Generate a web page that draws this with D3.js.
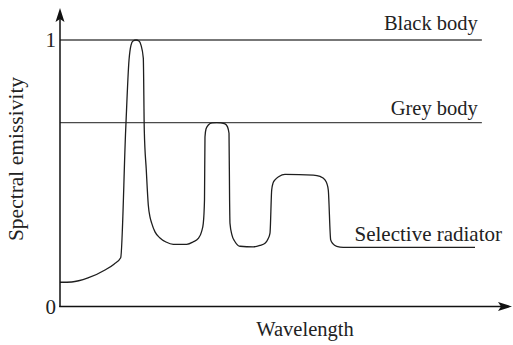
<!DOCTYPE html>
<html>
<head>
<meta charset="utf-8">
<script src="https://cdn.jsdelivr.net/npm/d3@7"></script>
<style>
  html, body { margin: 0; padding: 0; background: #fff; }
  svg { display: block; }
</style>
</head>
<body>
<div id="chart"></div>
<script>
// Spectral emissivity of ideal and real radiators versus wavelength (arbitrary units)
const blackBodyLevel = 1.0;
const greyBodyLevel = 0.69;
const referenceLineEnd = 94.8;

// Selective radiator: low continuum with three emission bands
const selWavelength = [0, 2.63, 6.29, 10.11, 12.13, 13.64, 14.76, 15.51, 15.96, 16.40, 17.08, 17.75, 18.20, 18.72, 18.94, 19.39, 19.84, 20.22, 20.60, 21.35, 22.47, 23.82, 25.46, 28.47, 29.89, 31.08, 31.80, 32.20, 32.47, 32.58, 32.81, 33.33, 34.16, 35.21, 36.18, 37.08, 37.64, 37.98, 38.11, 38.20, 38.65, 39.33, 40.45, 43.44, 44.94, 46.07, 46.74, 47.19, 47.57, 47.87, 48.31, 49.21, 50.56, 56.92, 58.43, 59.55, 60.00, 60.29, 60.83, 61.35, 62.18, 63.66, 93.26];
const selEmissivity = [0.091, 0.092, 0.107, 0.137, 0.159, 0.183, 0.662, 0.925, 0.981, 0.996, 1.0, 0.996, 0.981, 0.932, 0.662, 0.512, 0.381, 0.336, 0.313, 0.280, 0.257, 0.242, 0.233, 0.233, 0.242, 0.256, 0.280, 0.312, 0.400, 0.636, 0.666, 0.681, 0.689, 0.690, 0.689, 0.685, 0.674, 0.650, 0.400, 0.312, 0.268, 0.243, 0.226, 0.224, 0.229, 0.237, 0.253, 0.275, 0.437, 0.463, 0.475, 0.488, 0.496, 0.493, 0.488, 0.475, 0.460, 0.437, 0.250, 0.235, 0.226, 0.222, 0.222];

const yTickValues = [0, 1];
const curveLabels = ["Black body", "Grey body", "Selective radiator"];
const xAxisTitle = "Wavelength";
const yAxisTitle = "Spectral emissivity";

const SERIF = "'Liberation Serif', 'Times New Roman', Times, serif";
const INK = "#222";

const W = 513, H = 345;
const x = d3.scaleLinear().domain([0, 100]).range([60, 505]);
const y = d3.scaleLinear().domain([0, 1]).range([306.5, 40]);

const svg = d3.select("#chart").append("svg")
  .attr("width", W).attr("height", H);

function label(sel, size) {
  return sel.style("font-family", SERIF).style("font-size", size + "px").style("fill", INK);
}

// Reference levels
const refs = [
  { level: blackBodyLevel, label: curveLabels[0], gap: 10.5 },
  { level: greyBodyLevel, label: curveLabels[1], gap: 7.5 }
];
svg.selectAll("line.ref").data(refs).join("line")
  .attr("class", "ref")
  .attr("x1", x(0)).attr("x2", x(referenceLineEnd))
  .attr("y1", d => y(d.level)).attr("y2", d => y(d.level))
  .attr("stroke", "#4a4a4a").attr("stroke-width", 1.4);
svg.selectAll("text.ref").data(refs).join("text")
  .attr("class", "ref")
  .attr("x", x(93.9)).attr("y", d => y(d.level) - d.gap)
  .attr("text-anchor", "end")
  .text(d => d.label)
  .call(label, 20.5);

// Selective radiator curve
const pts = selWavelength.map((w, i) => [w, selEmissivity[i]]);
const line = d3.line()
  .x(d => x(d[0])).y(d => y(d[1]))
  .curve(d3.curveMonotoneX);
svg.append("path")
  .datum(pts)
  .attr("d", line)
  .attr("fill", "none")
  .attr("stroke", "#1e1e1e")
  .attr("stroke-width", 1.3)
  .attr("stroke-linejoin", "round");
const last = pts[pts.length - 1];
svg.append("text")
  .attr("x", x(last[0]) + 27).attr("y", y(last[1]) - 6)
  .attr("text-anchor", "end")
  .text(curveLabels[2])
  .call(label, 21);

// Axes with arrowheads
const x0 = x(0), yBase = y(0);
svg.append("line")
  .attr("x1", x0).attr("y1", yBase + 0.5).attr("x2", x0).attr("y2", 14)
  .attr("stroke", "#111").attr("stroke-width", 1.5);
svg.append("line")
  .attr("x1", x0 - 0.7).attr("y1", yBase).attr("x2", 506).attr("y2", yBase)
  .attr("stroke", "#111").attr("stroke-width", 1.5);
svg.append("path")
  .attr("d", `M${x0},8 L${x0 + 4.5},22 L${x0},19 L${x0 - 4.5},22 Z`)
  .attr("fill", "#111");
svg.append("path")
  .attr("d", `M512,${yBase} L498,${yBase - 4.5} L501,${yBase} L498,${yBase + 4.5} Z`)
  .attr("fill", "#111");

const yAxis = d3.axisLeft(y).tickValues(yTickValues).tickSize(0).tickPadding(4)
  .tickFormat(d3.format("d"));
const gy = svg.append("g").attr("transform", `translate(${x0},0)`).call(yAxis);
gy.select(".domain").remove();
gy.selectAll("text").call(label, 21);

// Axis titles
svg.append("text")
  .attr("x", 305).attr("y", 336)
  .attr("text-anchor", "middle")
  .text(xAxisTitle)
  .call(label, 20.5);
svg.append("text")
  .attr("transform", "translate(23,159) rotate(-90)")
  .attr("text-anchor", "middle")
  .text(yAxisTitle)
  .call(label, 21.5);
</script>
</body>
</html>
